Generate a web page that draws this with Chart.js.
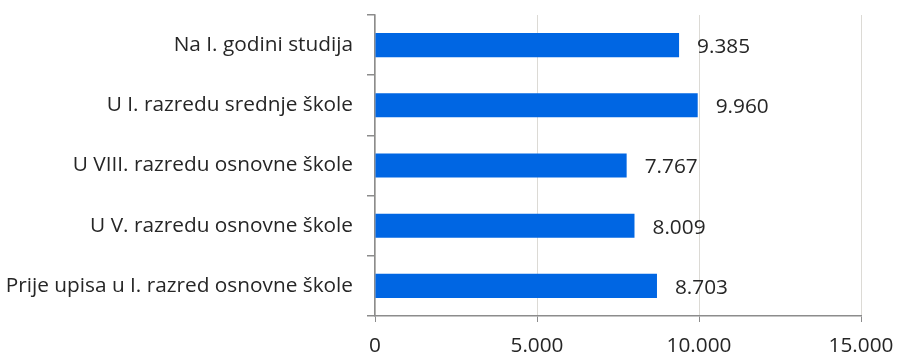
<!DOCTYPE html>
<html>
<head>
<meta charset="utf-8">
<script src="https://cdn.jsdelivr.net/npm/chart.js@4/dist/chart.umd.min.js"></script>
<style>
  html, body { margin: 0; padding: 0; background: #fff; }
  #wrap { width: 897px; height: 356px; }
</style>
</head>
<body>
<div id="wrap"><canvas id="chart"></canvas></div>
<script>
const categories = [
  'Na I. godini studija',
  'U I. razredu srednje škole',
  'U VIII. razredu osnovne škole',
  'U V. razredu osnovne škole',
  'Prije upisa u I. razred osnovne škole'
];
const values = [9385, 9960, 7767, 8009, 8703];
const xTicks = [0, 5000, 10000, 15000];

const fmt = v => v.toLocaleString('de-DE');
const axisGray = '#8c8c8c';
const textColor = '#262626';
const fontFamily = '"Open Sans", "Noto Sans", sans-serif';
const fontSize = 20.8;

// numbers printed just right of each bar end
const valueLabels = {
  id: 'valueLabels',
  afterDatasetsDraw(chart) {
    const ctx = chart.ctx;
    const meta = chart.getDatasetMeta(0);
    ctx.save();
    ctx.font = fontSize + 'px ' + fontFamily;
    ctx.fillStyle = textColor;
    ctx.textAlign = 'left';
    ctx.textBaseline = 'middle';
    meta.data.forEach((bar, i) => {
      ctx.fillText(fmt(values[i]), bar.x + 18, bar.y + 2);
    });
    ctx.restore();
  }
};

new Chart(document.getElementById('chart'), {
  type: 'bar',
  data: {
    labels: categories,
    datasets: [{
      data: values,
      backgroundColor: '#0066e3',
      borderWidth: 0,
      categoryPercentage: 1,
      barPercentage: 0.4
    }]
  },
  options: {
    indexAxis: 'y',
    responsive: true,
    maintainAspectRatio: false,
    animation: false,
    layout: { padding: { top: 15, right: 36, left: 0, bottom: 0 } },
    plugins: {
      legend: { display: false },
      tooltip: { enabled: false }
    },
    scales: {
      x: {
        min: 0,
        max: 15000,
        afterBuildTicks: scale => { scale.ticks = xTicks.map(v => ({ value: v })); },
        afterFit: scale => {
          scale.height = 40;
          scale.paddingLeft = 0;
          scale.paddingRight = 0;
        },
        grid: {
          color: '#dcdad5',
          lineWidth: 1,
          drawTicks: true,
          tickLength: 6,
          tickColor: axisGray
        },
        border: { color: axisGray, width: 1.5 },
        ticks: {
          color: textColor,
          font: { family: fontFamily, size: fontSize },
          padding: 12,
          maxRotation: 0,
          callback: v => fmt(v)
        }
      },
      y: {
        afterFit: scale => {
          scale.width = 375;
          scale.paddingTop = 0;
          scale.paddingBottom = 0;
        },
        grid: {
          offset: true,
          drawOnChartArea: false,
          tickLength: 8,
          tickColor: axisGray,
          lineWidth: 1.5
        },
        border: { color: axisGray, width: 1.5 },
        ticks: {
          color: textColor,
          font: { family: fontFamily, size: fontSize },
          padding: 14
        }
      }
    }
  },
  plugins: [valueLabels]
});
</script>
</body>
</html>
